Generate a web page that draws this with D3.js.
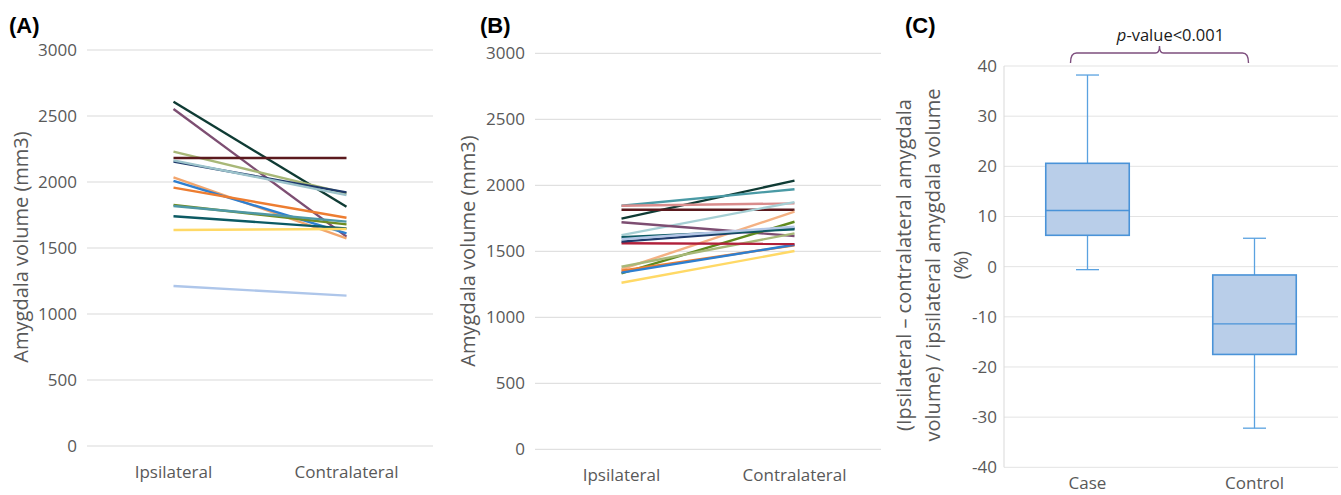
<!DOCTYPE html>
<html><head><meta charset="utf-8">
<script src="https://cdn.jsdelivr.net/npm/d3@7"></script>
<style>body{margin:0;background:#fff}svg{display:block}</style>
</head><body>
<svg id="c" width="1341" height="495"></svg>
<script>
const sides = ["Ipsilateral", "Contralateral"];
const yTicks = [0, 500, 1000, 1500, 2000, 2500, 3000];

// Panel A (case) ipsilateral / contralateral volumes
const aIpsi   = [2608, 2553, 2230, 2182, 2154, 2164, 2035, 2008, 1957, 1826, 1818, 1740, 1636, 1212];
const aContra = [1813, 1586, 1914, 2182, 1921, 1901, 1573, 1611, 1729, 1679, 1700, 1649, 1644, 1139];
const aColors = ["#0f3b34","#7d4e72","#a8b878","#5b1a1e","#1f3a6b","#9cc3cb","#f2a56c","#2e7fd0","#ed7d31","#6f8c22","#4f98a5","#0c5a63","#ffd966","#aec6ea"];

// Panel B (control)
const bIpsi   = [1747, 1845, 1845, 1815, 1623, 1720, 1364, 1333, 1383, 1353, 1338, 1262, 1561, 1573, 1606, 1591];
const bContra = [2035, 1970, 1863, 1815, 1873, 1616, 1800, 1724, 1636, 1545, 1550, 1502, 1555, 1674, 1667, 1686];
const bColors = ["#0f3b34","#4a9aa5","#d98c8c","#5b1a1e","#a6cfd4","#7d4e72","#f4b183","#5f8a1e","#a8b878","#ed7d31","#2e7fd0","#ffd966","#b0203a","#1f3a6b","#0c5a63","#b4c7e7"];

// Panel C box plot
const groups = ["Case", "Control"];
const boxMin = [-0.6, -32.2];
const boxQ1  = [6.25, -17.5];
const boxMed = [11.2, -11.4];
const boxQ3  = [20.6, -1.66];
const boxMax = [38.2, 5.66];
const cTicks = [-40, -30, -20, -10, 0, 10, 20, 30, 40];

const svg = d3.select("#c");
const FONT = "'Open Sans', sans-serif";
const GRAY = "#595959";

function linePanel(x0, x1, y0, yTop, ipsi, contra, colors, titleX, titleY, label, labelX) {
  const x = d3.scalePoint().domain(sides).range([x0, x1]).padding(0.5);
  const y = d3.scaleLinear().domain([0, 3000]).range([y0, yTop]);
  const g = svg.append("g");
  g.selectAll("line.grid").data(yTicks).join("line")
    .attr("x1", x0).attr("x2", x1)
    .attr("y1", d => y(d)).attr("y2", d => y(d))
    .attr("stroke", "#d9d9d9").attr("stroke-width", 1);
  g.selectAll("text.tick").data(yTicks).join("text")
    .attr("x", x0 - 10).attr("y", d => y(d)).attr("dy", "0.35em")
    .attr("text-anchor", "end").attr("font-family", FONT).attr("font-size", 17)
    .attr("fill", GRAY).text(d => d);
  g.selectAll("text.cat").data(sides).join("text")
    .attr("x", d => x(d)).attr("y", y0 + 26).attr("dy", "0.35em")
    .attr("text-anchor", "middle").attr("font-family", FONT).attr("font-size", 17)
    .attr("fill", GRAY).text(d => d);
  const line = d3.line().x(d => x(d[0])).y(d => y(d[1]));
  ipsi.forEach((v, i) => {
    g.append("path").attr("d", line([[sides[0], v], [sides[1], contra[i]]]))
      .attr("stroke", colors[i]).attr("stroke-width", 2.4).attr("fill", "none");
  });
  g.append("text").attr("transform", `translate(${titleX},${titleY}) rotate(-90)`)
    .attr("text-anchor", "middle").attr("dy", "0.35em")
    .attr("font-family", FONT).attr("font-size", 20).attr("fill", GRAY)
    .text("Amygdala volume (mm3)");
  g.append("text").attr("x", labelX).attr("y", 33)
    .attr("font-family", "'Liberation Sans', Arial, sans-serif").attr("font-weight", "bold")
    .attr("font-size", 22).attr("fill", "#000").text(label);
}

linePanel(87, 433, 446, 50, aIpsi, aContra, aColors, 21, 247, "(A)", 9);
linePanel(535, 881, 449.3, 53.3, bIpsi, bContra, bColors, 468, 251, "(B)", 480);

// Panel C
{
  const x0 = 1004, x1 = 1338;
  const x = d3.scalePoint().domain(groups).range([x0, x1]).padding(0.5);
  const y = d3.scaleLinear().domain([-40, 40]).range([467.3, 66]);
  const g = svg.append("g");
  g.selectAll("line.grid").data(cTicks).join("line")
    .attr("x1", x0).attr("x2", x1)
    .attr("y1", d => y(d)).attr("y2", d => y(d))
    .attr("stroke", "#e3e3e3").attr("stroke-width", 1);
  g.append("line").attr("x1", x0).attr("x2", x0).attr("y1", y(40)).attr("y2", y(-40))
    .attr("stroke", "#d9d9d9");
  g.selectAll("text.tick").data(cTicks).join("text")
    .attr("x", x0 - 7).attr("y", d => y(d)).attr("dy", "0.35em")
    .attr("text-anchor", "end").attr("font-family", FONT).attr("font-size", 17)
    .attr("fill", GRAY).text(d => d);
  g.selectAll("text.cat").data(groups).join("text")
    .attr("x", d => x(d)).attr("y", 483).attr("dy", "0.35em")
    .attr("text-anchor", "middle").attr("font-family", FONT).attr("font-size", 17)
    .attr("fill", GRAY).text(d => d);
  const bw = x.step() * 0.5, cw = 23;
  const stroke = "#4a93d8";
  groups.forEach((grp, i) => {
    const cx = x(grp);
    g.append("line").attr("x1", cx).attr("x2", cx).attr("y1", y(boxMax[i])).attr("y2", y(boxQ3[i]))
      .attr("stroke", "#5aa2e0").attr("stroke-width", 1.3);
    g.append("line").attr("x1", cx).attr("x2", cx).attr("y1", y(boxQ1[i])).attr("y2", y(boxMin[i]))
      .attr("stroke", "#5aa2e0").attr("stroke-width", 1.3);
    [boxMax[i], boxMin[i]].forEach(v => {
      g.append("line").attr("x1", cx - cw / 2).attr("x2", cx + cw / 2).attr("y1", y(v)).attr("y2", y(v))
        .attr("stroke", "#5aa2e0").attr("stroke-width", 1.3);
    });
    g.append("rect").attr("x", cx - bw / 2).attr("width", bw)
      .attr("y", y(boxQ3[i])).attr("height", y(boxQ1[i]) - y(boxQ3[i]))
      .attr("fill", "#b9cee9").attr("stroke", stroke).attr("stroke-width", 1.6);
    g.append("line").attr("x1", cx - bw / 2).attr("x2", cx + bw / 2)
      .attr("y1", y(boxMed[i])).attr("y2", y(boxMed[i]))
      .attr("stroke", stroke).attr("stroke-width", 1.4);
  });
  // y title
  const tl = ["(Ipsilateral – contralateral amygdala", "volume) / ipsilateral amygdala volume", "(%)"];
  tl.forEach((t, i) => {
    g.append("text").attr("transform", `translate(${904 + i * 28.5},265) rotate(-90)`)
      .attr("text-anchor", "middle").attr("dy", "0.35em")
      .attr("font-family", FONT).attr("font-size", 20).attr("fill", GRAY).text(t);
  });
  // bracket
  const bx0 = x(groups[0]) - 17, bx1 = x(groups[1]) - 6, bm = (bx0 + bx1) / 2;
  const yb = 53, ye = 63, yp = 46;
  const p = d3.path();
  p.moveTo(bx0, ye);
  p.quadraticCurveTo(bx0, yb, bx0 + 6, yb);
  p.lineTo(bm - 4, yb);
  p.quadraticCurveTo(bm, yb, bm, yp);
  p.quadraticCurveTo(bm, yb, bm + 4, yb);
  p.lineTo(bx1 - 6, yb);
  p.quadraticCurveTo(bx1, yb, bx1, ye);
  g.append("path").attr("d", p.toString()).attr("fill", "none")
    .attr("stroke", "#7e4f7e").attr("stroke-width", 1.4);
  const pt = g.append("text").attr("x", bm + 11).attr("y", 35).attr("dy", "0.35em")
    .attr("text-anchor", "middle").attr("font-family", FONT).attr("font-size", 16.5).attr("fill", "#1a1a1a");
  pt.append("tspan").attr("font-style", "italic").text("p");
  pt.append("tspan").text("-value<0.001");
  svg.append("text").attr("x", 905).attr("y", 33)
    .attr("font-family", "'Liberation Sans', Arial, sans-serif").attr("font-weight", "bold")
    .attr("font-size", 22).attr("fill", "#000").text("(C)");
}
</script>
</body></html>
